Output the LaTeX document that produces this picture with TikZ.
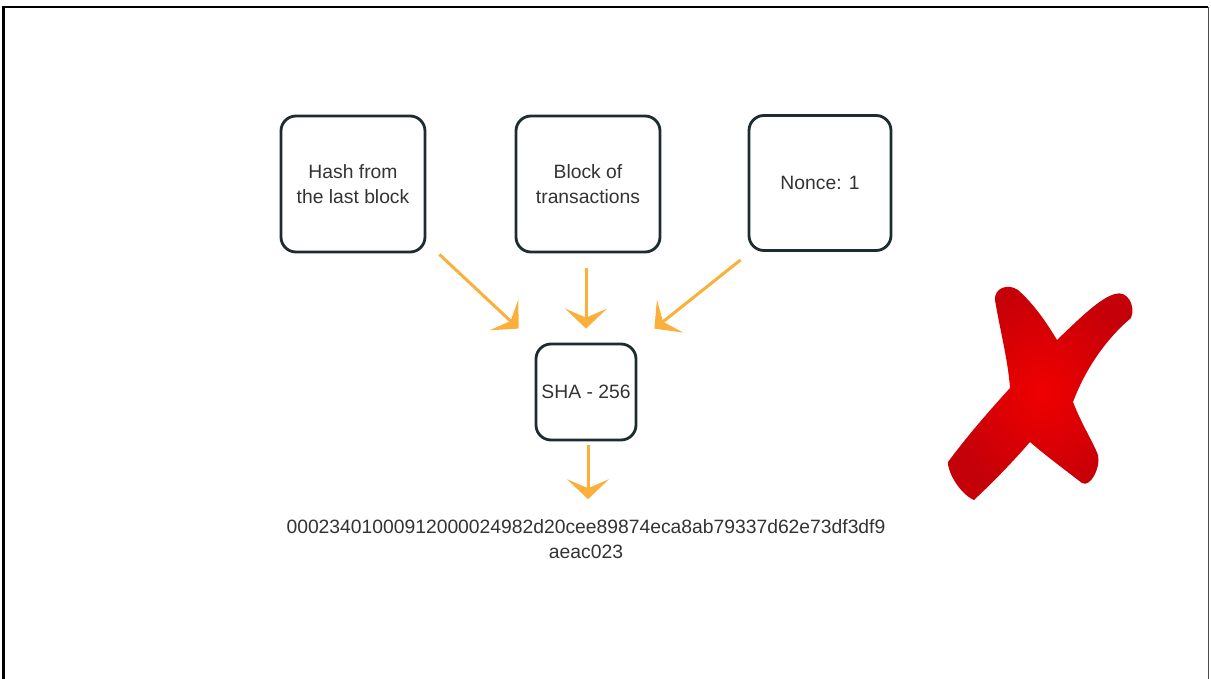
\documentclass[tikz,border=0pt]{standalone}
\usepackage{fontspec}
\setmainfont{Liberation Sans}
\usetikzlibrary{arrows.meta,calc}
\definecolor{boxline}{HTML}{1E2B31}
\definecolor{txt}{HTML}{333333}
\definecolor{flow}{HTML}{FBB03B}
\definecolor{crossin}{HTML}{F00000}
\definecolor{crossout}{HTML}{C40008}
\begin{document}
\begin{tikzpicture}[x=1pt,y=-1pt,
  box/.style={draw=boxline,line width=2.8pt,rounded corners=15pt,fill=white,
    align=center,text=txt,font=\fontsize{19.3}{25}\selectfont,inner sep=0pt},
  flowarrow/.style={draw=flow,line width=3pt,
    -{Stealth[length=20pt,width=42pt,inset=9pt]}},
  hashtext/.style={align=center,text=txt,font=\fontsize{19.3}{25}\selectfont,inner sep=0pt}]
  % page frame
  \useasboundingbox (0,0) rectangle (1211,679);
  \fill[white] (0,0) rectangle (1211,679);
  \draw[line width=2.4pt] (3.5,679) -- (3.5,7) -- (1208,7);
  \draw[line width=0.8pt,black!70] (1208,7) -- (1208,679);

  % inputs
  \node[box,minimum width=144pt,minimum height=136pt] (prev) at (353,184) {Hash from\\the last block};
  \node[box,minimum width=144pt,minimum height=136pt] (txs) at (588,184) {Block of\\transactions};
  \node[box,minimum width=142pt,minimum height=135pt] (nonce) at (820,183) {Nonce: 1};

  % hash function
  \node[box,minimum width=100pt,minimum height=96pt] (sha) at (586,392) {SHA - 256};

  % resulting digest
  \node[hashtext] (digest) at (586,539) {00023401000912000024982d20cee89874eca8ab79337d62e73df3df9\\aeac023};

  % arrow ends
  \coordinate (a1s) at ($(prev.south east)+(13,1)$);
  \coordinate (a1e) at ($(sha.north west)+(-16,-14)$);
  \coordinate (a2s) at ($(txs.south)+(-2,15)$);
  \coordinate (a2e) at ($(sha.north)+(0,-14)$);
  \coordinate (a3s) at ($(nonce.south west)+(-7,8)$);
  \coordinate (a3e) at ($(sha.north east)+(17,-14)$);
  \coordinate (a4s) at ($(sha.south)+(2,4)$);
  \coordinate (a4e) at ($(digest.north)+(2,-20)$);

  \draw[flowarrow] (a1s) -- (a1e);
  \draw[flowarrow] (a2s) -- (a2e);
  \draw[flowarrow] (a3s) -- (a3e);
  \draw[flowarrow] (a4s) -- (a4e);

  % red cross mark
  \shade[inner color=crossin,outer color=crossout]
    (995,300)
    .. controls (994,288) and (1008,283) .. (1018,290)
    .. controls (1035,305) and (1048,325) .. (1057,340)
    .. controls (1080,318) and (1100,298) .. (1115,294)
    .. controls (1127,290) and (1136,305) .. (1131,318)
    .. controls (1105,340) and (1085,370) .. (1073,402)
    .. controls (1082,425) and (1092,440) .. (1098,455)
    .. controls (1101,468) and (1090,488) .. (1082,483)
    .. controls (1065,470) and (1045,455) .. (1030,442)
    .. controls (1010,465) and (990,485) .. (974,500)
    .. controls (962,495) and (948,475) .. (948,462)
    .. controls (968,435) and (990,410) .. (1010,388)
    .. controls (1008,360) and (1000,330) .. (995,300) -- cycle;
\end{tikzpicture}
\end{document}
